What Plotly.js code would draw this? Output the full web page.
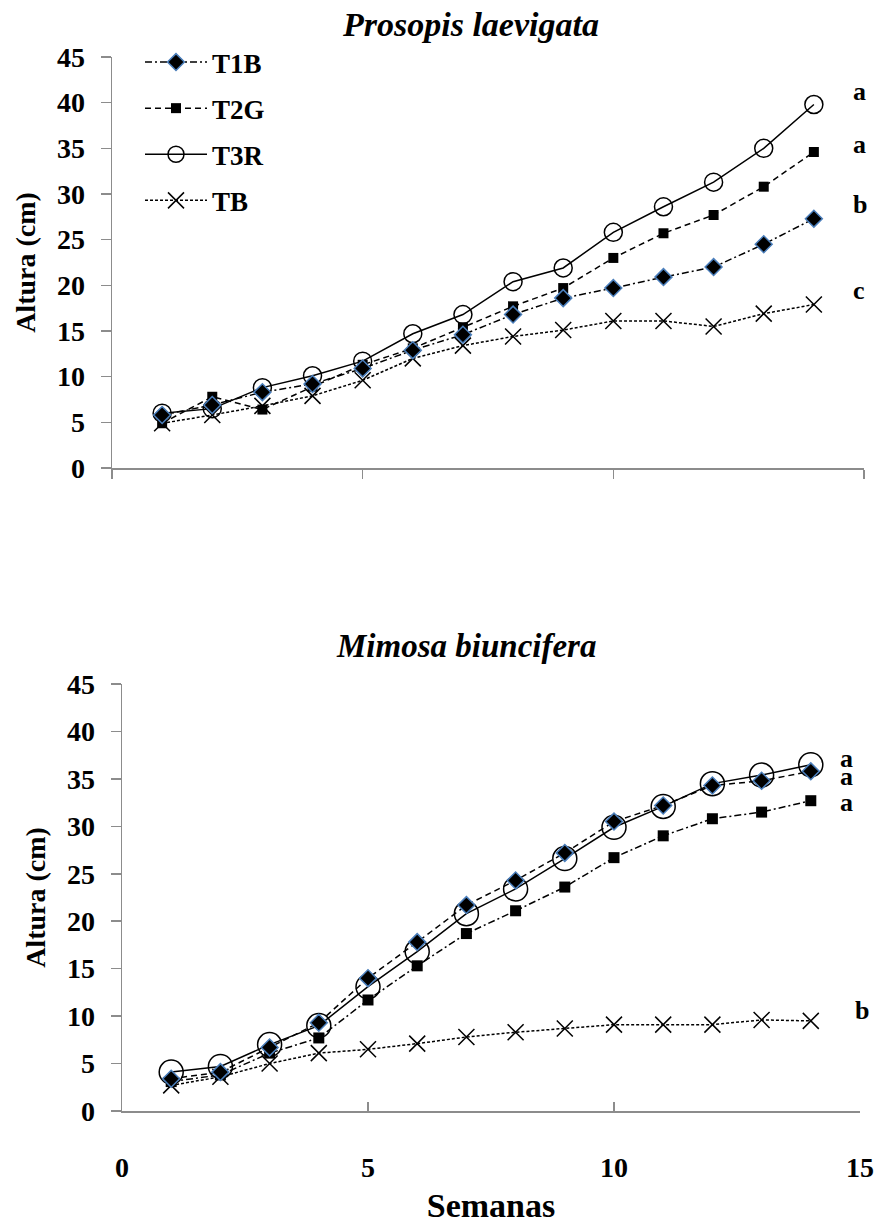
<!DOCTYPE html>
<html>
<head>
<meta charset="utf-8">
<script src="https://cdn.plot.ly/plotly-3.0.1.min.js"></script>
<style>html,body{margin:0;padding:0;background:#fff;}#chart{width:875px;height:1224px;}</style>
</head>
<body>
<div id="chart"></div>
<script>
// Semanas (weeks)
const weeks = [1,2,3,4,5,6,7,8,9,10,11,12,13,14];
const seriesNames = ["T1B","T2G","T3R","TB"];

// Prosopis laevigata – altura (cm)
const prosT1B = [5.8,6.9,8.3,9.2,10.9,12.9,14.6,16.8,18.6,19.7,20.9,22.0,24.5,27.3];
const prosT2G = [4.9,7.8,6.4,8.9,11.3,13.1,15.4,17.7,19.7,23.0,25.7,27.7,30.8,34.6];
const prosT3R = [6.0,6.5,8.8,10.1,11.7,14.7,16.8,20.4,21.9,25.8,28.6,31.3,35.0,39.8];
const prosTB  = [4.9,5.8,6.8,7.9,9.6,12.0,13.4,14.4,15.1,16.1,16.1,15.5,16.9,17.9];

// Mimosa biuncifera – altura (cm)
const mimT1B = [3.4,4.1,6.7,9.3,14.0,17.8,21.7,24.3,27.2,30.5,32.2,34.3,34.8,35.8];
const mimT2G = [3.1,3.8,6.1,7.7,11.7,15.3,18.7,21.1,23.6,26.7,29.0,30.8,31.5,32.7];
const mimT3R = [4.1,4.7,7.0,9.0,13.1,16.8,20.8,23.4,26.6,29.9,32.1,34.5,35.4,36.5];
const mimTB  = [2.7,3.6,5.0,6.1,6.5,7.1,7.8,8.3,8.7,9.1,9.1,9.1,9.6,9.5];

// significance letters
const prosLetters = ["a","a","b","c"];
const prosLetterX = [14.75,14.75,14.75,14.75];
const prosLetterY = [41.2,35.4,28.8,19.4];
const mimLetters = ["a","a","a","b"];
const mimLetterX = [14.55,14.55,14.55,14.85];
const mimLetterY = [37.2,35.2,32.5,10.6];

const FONT = "Liberation Serif";
const blue = "#4a7ebb";
const gray = "#8c8c8c";

function mk(name, rank, x, y, xa, ya, dash, marker, show) {
  return {
    type: "scatter", mode: "lines+markers", name: name, x: x, y: y,
    xaxis: xa, yaxis: ya, showlegend: show, legendgroup: name, legendrank: rank,
    line: {color: "#000", width: 1.5, dash: dash},
    marker: marker, cliponaxis: false, hoverinfo: "skip"
  };
}

const mDiamond = {symbol: "diamond", size: 13, color: "#000", line: {color: blue, width: 1.5}};
const mSquare = {symbol: "square", size: 10, color: "#000", line: {width: 0}};
const mCircleTop = {symbol: "circle-open", size: 18, color: "#000", line: {width: 1.5}};
const mCircleBot = {symbol: "circle-open", size: 24, color: "#000", line: {width: 1.5}};
const mX = {symbol: "x-thin-open", size: 16, color: "#000", line: {color: "#000", width: 1.5}};

const dDashDot = "7px,3px,2px,3px";
const dDash = "6px,4px";
const dDot = "3px,2px";

const traces = [
  mk(seriesNames[3], 4, weeks, prosTB, "x", "y", dDot, mX, true),
  mk(seriesNames[2], 3, weeks, prosT3R, "x", "y", "solid", mCircleTop, true),
  mk(seriesNames[1], 2, weeks, prosT2G, "x", "y", dDash, mSquare, true),
  mk(seriesNames[0], 1, weeks, prosT1B, "x", "y", dDashDot, mDiamond, true),
  mk(seriesNames[3], 4, weeks, mimTB, "x2", "y2", dDot, mX, false),
  mk(seriesNames[1], 2, weeks, mimT2G, "x2", "y2", dDashDot, Object.assign({}, mSquare, {size: 11}), false),
  mk(seriesNames[2], 3, weeks, mimT3R, "x2", "y2", "solid", mCircleBot, false),
  mk(seriesNames[0], 1, weeks, mimT1B, "x2", "y2", dDash, mDiamond, false)
];

const letterFont = {family: FONT, size: 26, color: "#000", weight: "bold"};
const annotations = [];
prosLetters.forEach((t, i) => annotations.push({
  xref: "x", yref: "y", x: prosLetterX[i], y: prosLetterY[i], text: t, showarrow: false,
  xanchor: "left", yanchor: "middle", font: letterFont
}));
mimLetters.forEach((t, i) => annotations.push({
  xref: "x2", yref: "y2", x: mimLetterX[i], y: mimLetterY[i], text: t, showarrow: false,
  xanchor: "left", yanchor: "middle", font: letterFont
}));
const titleFont = {family: FONT, size: 34, color: "#000", weight: "bold", style: "italic"};
annotations.push({
  xref: "paper", yref: "paper", x: 470/875, y: 1 - 24/1224, text: "Prosopis laevigata",
  showarrow: false, xanchor: "center", yanchor: "middle", font: titleFont
});
annotations.push({
  xref: "paper", yref: "paper", x: 466/875, y: 1 - 646/1224, text: "Mimosa biuncifera",
  showarrow: false, xanchor: "center", yanchor: "middle",
  font: Object.assign({}, titleFont, {size: 33})
});

const tickFont = {family: FONT, size: 28, color: "#000", weight: "bold"};
const yTitleFont = {family: FONT, size: 28, color: "#000", weight: "bold"};

function yax(domain, anchor, standoff) {
  return {
    domain: domain, anchor: anchor, range: [0, 45], dtick: 5, tick0: 0,
    showgrid: false, zeroline: false, showline: true, linecolor: gray, linewidth: 1.5,
    ticks: "outside", ticklen: 10, tickcolor: gray, tickwidth: 1.5,
    tickfont: tickFont, ticklabelstandoff: 10,
    title: {text: "Altura (cm)", font: yTitleFont, standoff: standoff}
  };
}

const layout = {
  width: 875, height: 1224,
  margin: {l: 0, r: 0, t: 0, b: 0},
  paper_bgcolor: "#fff", plot_bgcolor: "#fff",
  font: {family: FONT},
  showlegend: true,
  legend: {
    x: 140/875, y: 1 - 38/1224, xanchor: "left", yanchor: "top",
    font: {family: FONT, size: 27, color: "#000", weight: "bold"},
    traceorder: "grouped", tracegroupgap: 8, bgcolor: "rgba(0,0,0,0)",
    itemwidth: 62
  },
  xaxis: {
    domain: [112/875, 864/875], anchor: "y", range: [0, 15], dtick: 5, tick0: 0,
    showgrid: false, zeroline: false, showline: true, linecolor: gray, linewidth: 2,
    ticks: "outside", ticklen: 9, tickcolor: gray, tickwidth: 1.5, showticklabels: false
  },
  yaxis: yax([1 - 468/1224, 1 - 57/1224], "x", 13),
  xaxis2: {
    domain: [122/875, 860/875], anchor: "y2", range: [0, 15], dtick: 5, tick0: 0,
    showgrid: false, zeroline: false, showline: true, linecolor: gray, linewidth: 2,
    ticks: "inside", ticklen: 9, tickcolor: gray, tickwidth: 1.5,
    tickfont: tickFont, ticklabelstandoff: 30,
    title: {text: "Semanas", font: {family: FONT, size: 34, color: "#000", weight: "bold"}, standoff: 14}
  },
  yaxis2: yax([1 - 1111/1224, 1 - 684/1224], "x2", 13),
  annotations: annotations
};

Plotly.newPlot("chart", traces, layout, {displayModeBar: false, staticPlot: true});
</script>
</body>
</html>
